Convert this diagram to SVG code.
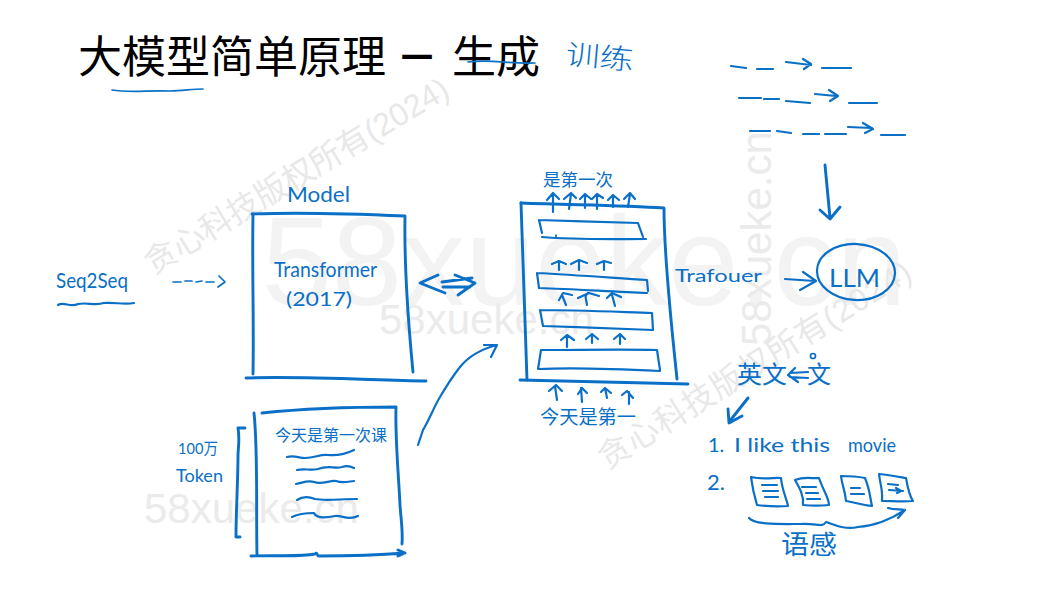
<svg xmlns="http://www.w3.org/2000/svg" width="1051" height="590" viewBox="0 0 1051 590">
<style>
.wm{font-family:"Liberation Sans",Arial,sans-serif;fill:#ebebeb}
.wc{font-family:"Liberation Sans","Noto Sans CJK SC",sans-serif;fill:#e8e8e8;font-size:32px}
.title{font-family:"Noto Sans CJK SC","Noto Sans",sans-serif;font-size:44px;fill:#000}
.s{fill:none;stroke:#0a6fc6;stroke-width:2.9;stroke-linecap:round;stroke-linejoin:round}
.t{fill:none;stroke:#0a6fc6;stroke-width:2.2;stroke-linecap:round;stroke-linejoin:round}
.n{fill:none;stroke:#0a6fc6;stroke-width:1.7;stroke-linecap:round;stroke-linejoin:round}
.h{font-family:"Lato","Noto Sans CJK SC",sans-serif;fill:#0a6fc6}
.c{font-family:"Noto Sans CJK SC",sans-serif;fill:#0a6fc6}
</style>
<rect width="1051" height="590" fill="#fff"/>
<g id="watermarks">
<text class="wm" x="262" y="305" font-size="126" style="fill:#f3f3f3">58xueke.cn</text>
<text class="wm" x="379" y="334" font-size="42">58xueke.cn</text>
<text class="wm" x="144" y="523" font-size="42">58xueke.cn</text>
<text class="wm" transform="translate(771,346) rotate(-90)" font-size="42">58xueke.cn</text>
<text class="wc" transform="translate(153,275) rotate(-31)">贪心科技版权所有(2024)</text>
<text class="wc" transform="translate(607,470) rotate(-32)" textLength="362">贪心科技版权所有(2024)</text>
</g>
<g id="title">
<text class="title" x="78" y="73">大模型简单原理<tspan x="401" y="69" font-size="32" font-weight="700">一</tspan><tspan x="452" y="73">生成</tspan></text>
<path class="n" d="M112 90C130 93 150 90 170 91C182 91 192 89 203 89"/>
<path class="n" d="M468 62C490 59 510 64 535 63"/>
<text class="c" transform="translate(565,64) rotate(5)" font-size="28" textLength="68" lengthAdjust="spacingAndGlyphs" style="font-weight:300">训练</text>
</g>
<g id="node-seq2seq">
<text class="h" x="56" y="288" font-size="22" textLength="72" lengthAdjust="spacingAndGlyphs">Seq2Seq</text>
<path class="t" d="M58 305C64 301 70 308 78 304C88 302 94 306 104 303C114 302 124 305 134 303"/>
</g>
<g id="node-model">
<text class="h" x="287" y="202" font-size="21" textLength="63" lengthAdjust="spacingAndGlyphs">Model</text>
<path class="s" d="M252 214C300 212 360 214 405 216C404 270 408 320 413 372"/>
<path class="s" d="M253 214C252 270 254 320 253 374"/>
<path class="s" d="M246 378C300 376 370 380 426 381"/>
<text class="h" x="274" y="277" font-size="21" textLength="103" lengthAdjust="spacingAndGlyphs">Transformer</text>
<text class="h" x="286" y="306" font-size="19" textLength="66" lengthAdjust="spacingAndGlyphs">(2017)</text>
</g>
<g id="node-document">
<path class="s" d="M262 413C300 409 350 407 396 407C395 440 399 480 400 505C401 520 403 530 402 544"/>
<path class="s" d="M254 413C258 450 256 510 257 555"/>
<path class="s" d="M251 556C280 555 300 557 315 554C318 551 316 557 320 556C350 556 380 555 405 553M398 550L405 553L398 556"/>
<text class="c" x="275" y="441" font-size="16" textLength="112" lengthAdjust="spacingAndGlyphs">今天是第一次课</text>
<path class="t" d="M287 457C295 455 298 458 305 458C315 458 320 454 328 455C340 456 350 452 354 450"/>
<path class="t" d="M297 470C305 468 310 471 318 469C328 465 335 469 342 467C348 465 352 467 354 468"/>
<path class="t" d="M296 484C305 482 308 480 314 482C322 485 330 480 336 481C344 484 350 481 354 481"/>
<path class="t" d="M297 500C303 496 310 497 315 499C325 501 340 499 357 499"/>
<path class="t" d="M292 517C298 514 305 513 314 513C316 518 325 518 335 516C342 515 348 521 358 516"/>
<path class="s" d="M245 428L238 428C240 440 238 450 238 455C238 480 236 510 236 537L240 537"/>
<text class="h" x="178" y="454" font-size="16" textLength="40" lengthAdjust="spacingAndGlyphs">100万</text>
<text class="h" x="176" y="482" font-size="18" textLength="47" lengthAdjust="spacingAndGlyphs">Token</text>
</g>
<g id="node-stack">
<text class="c" x="543" y="186" textLength="70" lengthAdjust="spacingAndGlyphs" font-size="17">是第一次</text>
<path class="s" d="M521 203C570 205 620 205 664 208C664 260 672 330 677 379"/>
<path class="s" d="M521 203C523 260 525 320 527 380"/>
<path class="s" d="M520 380C580 381 640 383 688 384"/>
<path class="t" d="M539 220C570 221 610 222 638 223L643 237M539 220L542 233M542 237C575 240 615 239 646 239"/>
<path class="t" d="M537 273C575 275 615 278 647 280L648 291M537 273L539 288C575 289 615 292 647 293"/>
<path class="t" d="M540 310C575 310 620 312 652 313L653 330M540 310L543 326C580 327 620 329 653 330"/>
<path class="t" d="M541 350C580 350 620 349 657 350L660 370M541 350L538 369C580 367 620 369 660 371"/>
<path class="n" d="M556 235V237"/>
<text class="c" x="540" y="424" textLength="96" lengthAdjust="spacingAndGlyphs" font-size="19">今天是第一</text>
</g>
<g id="node-llm">
<ellipse class="t" cx="856" cy="272" rx="39" ry="28" transform="rotate(3 856 272)"/>
<text class="h" x="829" y="287" font-size="25" textLength="51" lengthAdjust="spacingAndGlyphs">LLM</text>
</g>
<g id="node-sentences">
<path class="t" d="M731 66L746 68M757 69H773M786 62L811 65M803 59L811 64L804 69M822 68H851"/>
<path class="t" d="M739 98H761M764 99H779M786 101L810 103M815 94L836 96M829 90L838 96L830 101M849 103H877"/>
<path class="t" d="M750 131H770M777 131L791 133M803 134H819M825 134H846M848 127L872 128M863 123L873 129L865 133M881 135H905"/>
<path class="s" d="M825 165L830 218M820 210L830 219L840 207"/>
</g>
<g id="node-translation">
<text class="c" x="737" y="383" font-size="24" textLength="50" lengthAdjust="spacingAndGlyphs">英文</text>
<path class="t" d="M795 368L788 375L798 382M790 373L808 372M790 377L808 378"/>
<circle class="n" cx="813" cy="356" r="2.5"/>
<text class="c" x="807" y="383" font-size="24">文</text>
<path class="s" d="M748 398L729 422M728 409L729 423L742 416"/>
<text class="h" x="708" y="452" font-size="20">1.</text>
<text class="h" x="734" y="452" font-size="19" textLength="96" lengthAdjust="spacingAndGlyphs">I like this</text>
<text class="h" x="848" y="452" font-size="19" textLength="48" lengthAdjust="spacingAndGlyphs">movie</text>
<text class="h" x="707" y="490" font-size="22">2.</text>
</g>
<g id="node-pages">
<path class="t" d="M751 477C765 480 775 477 781 478C782 490 787 500 788 506C775 507 765 506 757 505C754 495 752 485 751 477Z"/>
<path class="t" d="M762 485H777M763 491H778M765 497H778"/>
<path class="t" d="M795 480C805 476 813 479 819 478C823 490 829 498 829 505C820 506 812 506 803 505C804 495 799 487 795 480Z"/>
<path class="t" d="M802 487H816M806 493H818M807 499H820"/>
<path class="t" d="M841 476C850 476 860 477 865 478C870 490 870 498 872 506C862 505 853 502 846 501C845 490 842 485 841 476Z"/>
<path class="t" d="M851 488H860M851 494H864"/>
<path class="t" d="M879 474C890 475 900 477 906 478C908 490 911 498 913 501C902 502 892 501 882 501C883 490 880 484 879 474Z"/>
<path class="t" d="M888 484L898 485M889 490L903 491M896 488L901 491L897 493"/>
<path class="t" d="M749 518C755 525 780 524 800 524C818 523 822 528 826 522C835 525 845 530 858 527C875 526 893 518 905 510M888 508C895 510 900 509 905 510L898 518"/>
<text class="c" x="781" y="554" font-size="26" textLength="56" lengthAdjust="spacingAndGlyphs">语感</text>
</g>
<g id="connectors">
<path class="n" d="M173 282L181 282M185 281L192 281M196 282L202 281M206 282L214 282M219 276L225 282L218 287"/>
<path class="s" d="M438 275L420 283L445 293M442 282L472 278M443 287L470 287M455 275L475 283L458 295"/>
<path class="t" d="M418 445L423 430C430 418 435 405 440 397C447 385 453 376 460 367C468 357 478 350 497 345M484 345L497 345L491 357"/>
<path class="t" d="M553 212V194M547 200L553 193L559 199M569 209L571 194M564 199L571 193L576 198M585 208V194M580 199L585 194L591 199M597 209V194M592 199L597 194L603 198M613 207V195M608 200L613 195L619 200M628 207L630 194M624 199L630 193L635 199"/>
<path class="t" d="M559 270V263M552 264L559 261L566 264M579 270V262M571 264L579 260L587 263M604 270V263M597 264L604 261L611 263"/>
<path class="t" d="M566 305L562 295M559 300L563 293L572 295M587 305C586 298 584 296 588 293M578 298L589 293L599 296M615 306L612 295M607 298L612 293L621 297"/>
<path class="t" d="M567 347V335M561 340L567 335L574 340M592 343V334M586 339L592 334L598 339M620 344V335M614 339L620 334L625 339"/>
<path class="t" d="M557 400L555 386M549 391L556 385L562 391M582 402L581 388M578 394L582 388L587 393M607 398L605 388M601 392L605 388L611 393M629 404V392M622 395L627 391L633 398"/>
<text class="h" x="675" y="282" font-size="18" textLength="87" lengthAdjust="spacingAndGlyphs">Trafouer</text>
<path class="t" d="M785 279L815 281M803 272L816 281L800 290"/>
</g>
</svg>
